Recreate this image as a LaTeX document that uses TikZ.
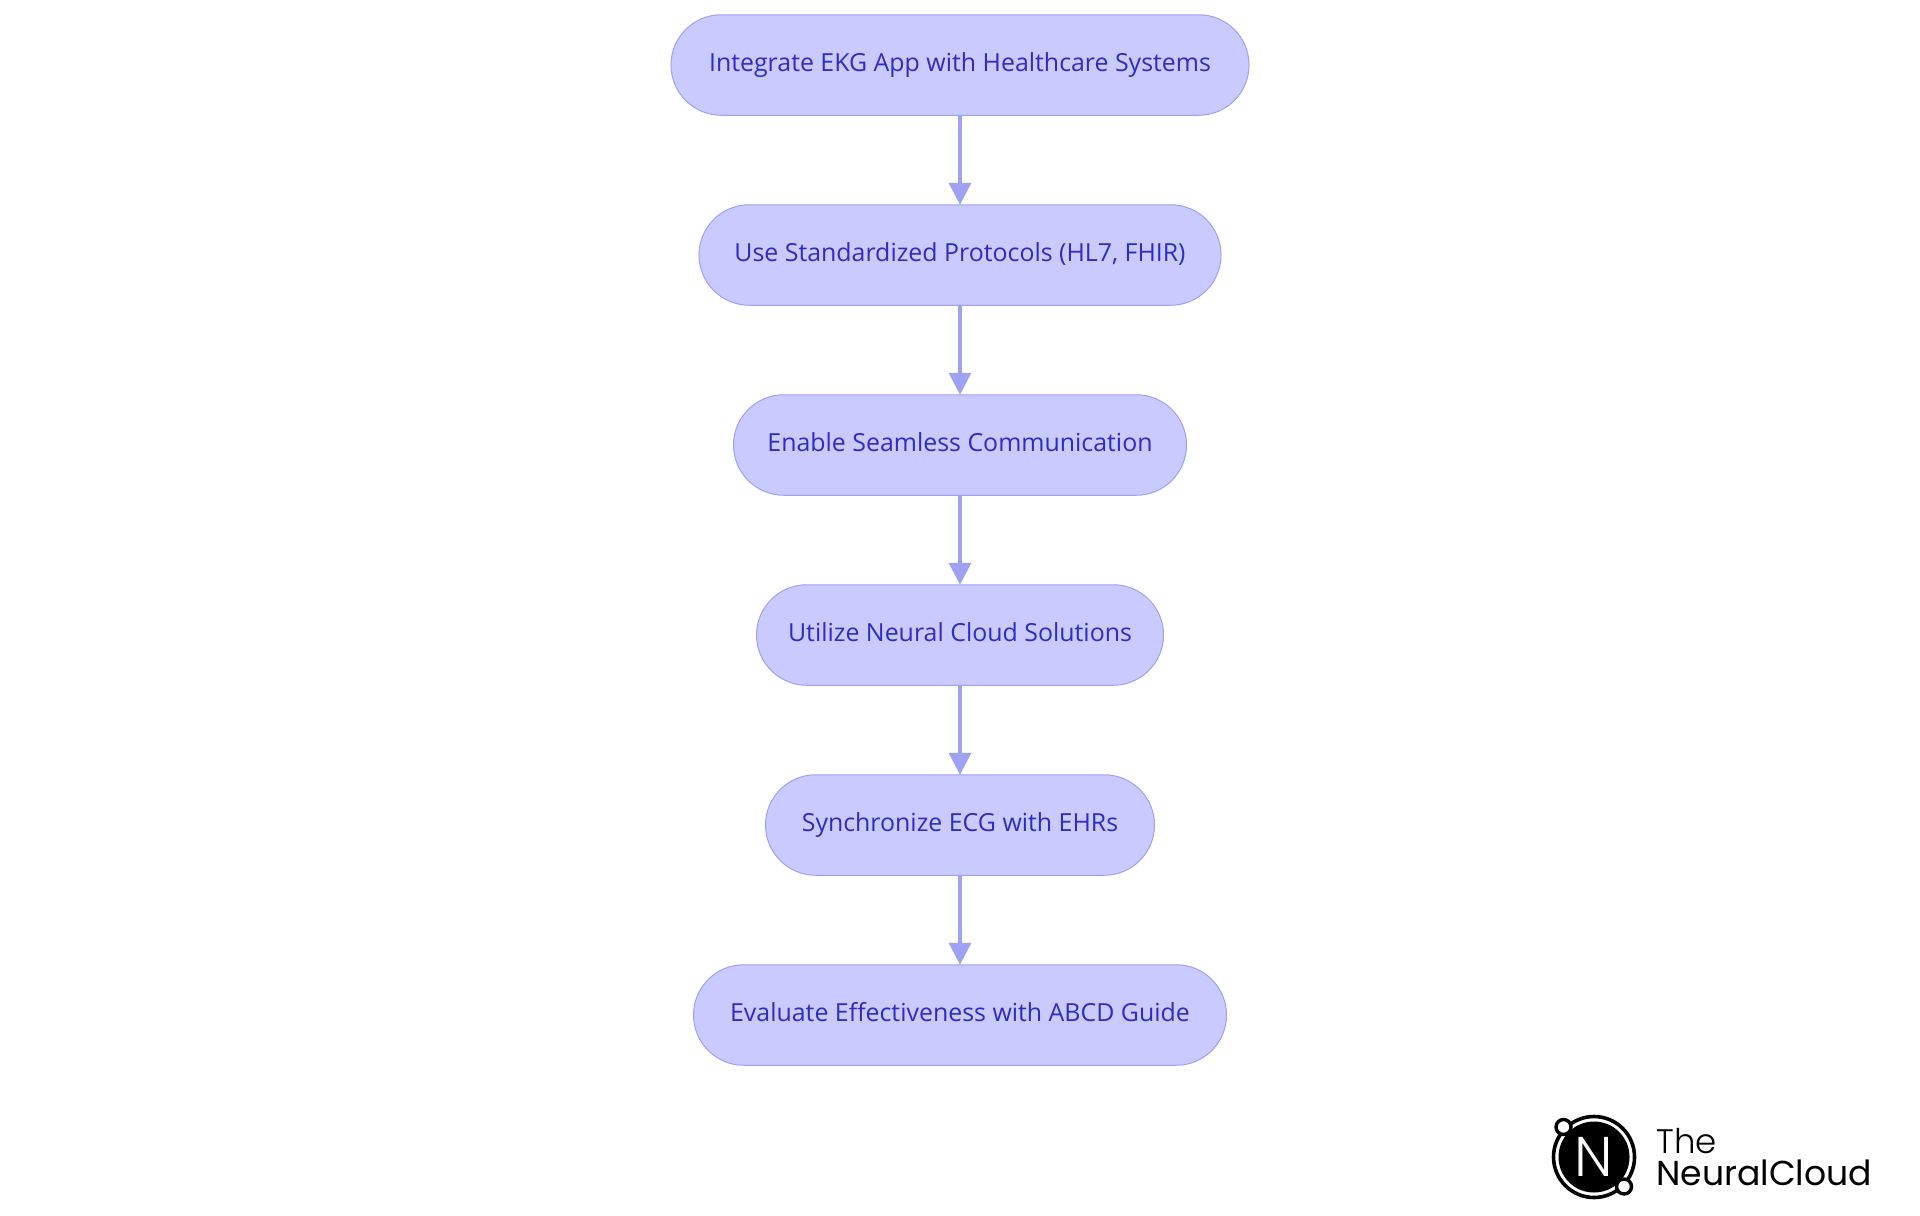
\documentclass[tikz,border=0pt]{standalone}
\usepackage{fontspec}
\setmainfont{Open Sans}
\newfontfamily\logofont[UprightFont=* Light]{Poppins}
\newfontfamily\logonamefont{Poppins}
\usepackage{xcolor}
\usetikzlibrary{shapes.misc}
\usetikzlibrary{arrows.meta}
\definecolor{stepfill}{HTML}{C9CAFF}
\definecolor{stepline}{HTML}{9FA1F2}
\definecolor{steptext}{HTML}{2E2BC9}
\tikzset{
  stepbox/.style={rounded rectangle,draw=stepline,fill=stepfill,line width=.5pt,
    text=steptext,minimum height=50.25pt,inner sep=0pt,outer sep=0pt,
    text height=11pt,text depth=5pt,
    font=\fontsize{12.45}{14}\selectfont},
  steparrow/.style={draw=stepline,line width=1.7pt,-{Triangle[length=11pt,width=11pt]}},
}
\begin{document}
\begin{tikzpicture}[x=.5pt,y=-.5pt]
  \useasboundingbox[fill=white] (0,0) rectangle (1920,1215);
  \node[stepbox,minimum width=289pt] (integrate) at (960,65) {Integrate EKG App with Healthcare Systems};
  \node[stepbox,minimum width=261pt] (protocols) at (960,255) {Use Standardized Protocols (HL7, FHIR)};
  \node[stepbox,minimum width=226.5pt] (seamless) at (960,445) {Enable Seamless Communication};
  \node[stepbox,minimum width=203.5pt] (neural) at (960,635) {Utilize Neural Cloud Solutions};
  \node[stepbox,minimum width=194.5pt] (sync) at (960,825) {Synchronize ECG with EHRs};
  \node[stepbox,minimum width=266.5pt] (evaluate) at (960,1015) {Evaluate Effectiveness with ABCD Guide};
  \draw[steparrow] (integrate.south) -- (protocols.north);
  \draw[steparrow] (protocols.south) -- (seamless.north);
  \draw[steparrow] (seamless.south) -- (neural.north);
  \draw[steparrow] (neural.south) -- (sync.north);
  \draw[steparrow] (sync.south) -- (evaluate.north);
  \draw[black,line width=1.8pt,fill=white] (1594,1157) circle (40.5);
  \fill[black] (1594,1157) circle (35.5);
  \node[text=white,font=\logofont\fontsize{28}{28}\selectfont] (logoletter) at (1594,1157) {N};
  \draw[black,line width=1.7pt,fill=white] (1563.5,1127) circle (7.5);
  \draw[black,line width=1.7pt,fill=white] (1624,1186.5) circle (7.5);
  \node[anchor=west,inner sep=0pt,font=\logofont\fontsize{17}{17}\selectfont] (logothe) at (1656,1141) {The};
  \node[anchor=west,inner sep=0pt,font=\logonamefont\fontsize{17.3}{17.3}\selectfont] (logoname) at (1656,1173) {NeuralCloud};
\end{tikzpicture}
\end{document}
